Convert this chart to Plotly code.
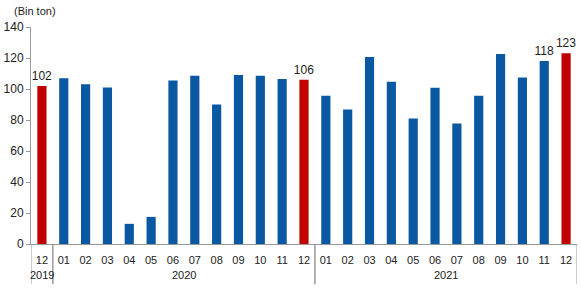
import plotly.graph_objects as go

years = ["2019"] + ["2020"] * 12 + ["2021"] * 12
months = ["12", "01", "02", "03", "04", "05", "06", "07", "08", "09", "10", "11", "12",
          "01", "02", "03", "04", "05", "06", "07", "08", "09", "10", "11", "12"]
values = [102, 107, 103, 101, 13, 17.5, 105.5, 108.5, 90, 109, 108.5, 106.5, 106,
          95.7, 86.7, 120.7, 104.7, 81, 100.8, 77.8, 95.7, 122.6, 107.5, 118, 123]
labels = ["102", "", "", "", "", "", "", "", "", "", "", "", "106",
          "", "", "", "", "", "", "", "", "", "", "118", "123"]
highlight = [True] + [False] * 11 + [True] + [False] * 11 + [True]

BLUE = "#0B58A2"
RED = "#C00000"
GRAY = "#999999"
colors = [RED if h else BLUE for h in highlight]
idx = list(range(len(months)))

fig = go.Figure(go.Bar(
    x=idx,
    y=values,
    marker=dict(color=colors, line=dict(width=0)),
    text=labels,
    textposition="outside",
    constraintext="none",
    textfont=dict(family="Liberation Sans, Arial", size=12, color="#222"),
    cliponaxis=False,
    width=0.42,
))

# year groups: labels and dividers
groups = []
for i, y in enumerate(years):
    if not groups or groups[-1][0] != y:
        groups.append([y, i, i])
    else:
        groups[-1][2] = i

shapes = []
annotations = []
for y, s, e in groups:
    for b in (s - 0.5, e + 0.5):
        shapes.append(dict(type="line", xref="x", yref="paper", x0=b, x1=b,
                           y0=0, y1=-0.185, line=dict(color=GRAY, width=1)))
    annotations.append(dict(text=y, x=(s + e) / 2, y=-0.145, xref="x", yref="paper",
                            showarrow=False, yanchor="middle",
                            font=dict(size=11, color="#222")))

annotations.append(dict(text="(Bin ton)", x=0, y=1, xref="paper", yref="paper",
                        xshift=-19, yshift=24, xanchor="left", yanchor="top",
                        showarrow=False, font=dict(size=11, color="#222")))

fig.update_layout(
    width=581, height=289,
    margin=dict(l=27, r=4, t=27, b=45),
    plot_bgcolor="white", paper_bgcolor="white",
    showlegend=False,
    font=dict(family="Liberation Sans, Arial", size=11, color="#222"),
    xaxis=dict(
        range=[-0.5, len(months) - 0.5],
        tickvals=idx, ticktext=months,
        showline=True, linecolor=GRAY, linewidth=1,
        ticks="outside", ticklen=6, tickcolor="rgba(0,0,0,0)",
        showgrid=False, zeroline=False,
        tickfont=dict(size=11, color="#222"),
    ),
    yaxis=dict(
        range=[0, 140], dtick=20, showgrid=False, zeroline=False,
        showline=True, linecolor=GRAY, linewidth=1,
        ticks="outside", ticklen=4, tickcolor=GRAY,
        tickfont=dict(size=12, color="#222"),
    ),
    shapes=shapes,
    annotations=annotations,
)

fig.write_html("out.html")
